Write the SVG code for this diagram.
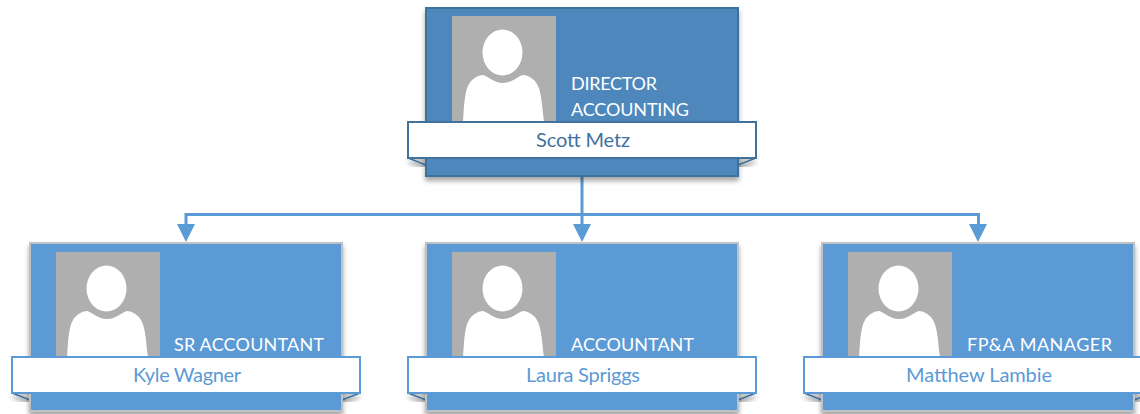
<svg xmlns="http://www.w3.org/2000/svg" width="1140" height="414" viewBox="0 0 1140 414">
<style>
text{font-family:"Lato","Open Sans","Liberation Sans",sans-serif}
.card{stroke-width:2}
.c1{fill:#5b9ad6;stroke:#bfc3c6}
.c0{fill:#4e87bc;stroke:#41719c}
.photo{fill:#afafaf}
.head,.body{fill:#fff}
.rib{fill:#fff;stroke-width:2}
.r1{stroke:#5b9ad6}.r0{stroke:#41719c}
.flap{fill:#c9c9c9;stroke-width:1.5}
.role{fill:#fff;font-size:18px}
.n{text-anchor:middle;font-size:20px}
.n1{fill:#5b9ad6}.n0{fill:#41719c}
.wire{fill:none;stroke:#5b9bd5;stroke-width:3}
.hd{fill:#5b9bd5}
</style>
<defs>
<filter id="sh" x="-10%" y="-10%" width="120%" height="125%"><feDropShadow dx="0" dy="4" stdDeviation="2.5" flood-color="#000" flood-opacity="0.35"/></filter>
<g id="person">
<rect class="photo" width="104" height="106"/>
<ellipse class="head" cx="50.500" cy="36.500" rx="20" ry="23"/>
<path class="body" d="M11 106C12 88 13 76 16 70C19 63 26 59 31 59C36 60 42 67 51 67C60 67 66 60 71 59C76 59 83 63 86 70C89 76 90 88 92 106Z"/>
</g>
</defs>
<g id="connectors">
<path class="wire" d="M582 176V228M186 228V214.500H978.500V228"/>
<polygon class="hd" points="177,224 195,224 186,242"/>
<polygon class="hd" points="573,224 591,224 582,242"/>
<polygon class="hd" points="969,224 987,224 978,242"/>
</g>
<g id="node-director">
<polygon class="flap" stroke="#41719c" points="408,158 426,165 738,165 756,158" filter="url(#sh)"/>
<rect class="card c0" x="426" y="8" width="312" height="168" filter="url(#sh)"/>
<use href="#person" x="452" y="16"/>
<text class="role" x="571" y="90" textLength="86" lengthAdjust="spacing">DIRECTOR</text>
<text class="role" x="571" y="116" textLength="118" lengthAdjust="spacing">ACCOUNTING</text>
<rect class="rib r0" x="408" y="122" width="348" height="36"/>
<text class="n n0" x="583" y="147" textLength="94" lengthAdjust="spacing">Scott Metz</text>
</g>
<g id="node-kyle">
<polygon class="flap" stroke="#41719c" points="12,393 30,400 342,400 360,393" filter="url(#sh)"/>
<rect class="card c1" x="30" y="243" width="312" height="168" filter="url(#sh)"/>
<use href="#person" x="56" y="252"/>
<text class="role" x="174" y="351" textLength="150" lengthAdjust="spacing">SR ACCOUNTANT</text>
<rect class="rib r1" x="12" y="357" width="348" height="36"/>
<text class="n n1" x="187" y="382" textLength="108" lengthAdjust="spacing">Kyle Wagner</text>
</g>
<g id="node-laura">
<polygon class="flap" stroke="#41719c" points="408,393 426,400 738,400 756,393" filter="url(#sh)"/>
<rect class="card c1" x="426" y="243" width="312" height="168" filter="url(#sh)"/>
<use href="#person" x="452" y="252"/>
<text class="role" x="571" y="351" textLength="123" lengthAdjust="spacing">ACCOUNTANT</text>
<rect class="rib r1" x="408" y="357" width="348" height="36"/>
<text class="n n1" x="583" y="382" textLength="114" lengthAdjust="spacing">Laura Spriggs</text>
</g>
<g id="node-matthew">
<polygon class="flap" stroke="#41719c" points="804,393 822,400 1134,400 1152,393" filter="url(#sh)"/>
<rect class="card c1" x="822" y="243" width="312" height="168" filter="url(#sh)"/>
<use href="#person" x="848" y="252"/>
<text class="role" x="967" y="351" textLength="145" lengthAdjust="spacing">FP&amp;A MANAGER</text>
<rect class="rib r1" x="804" y="357" width="348" height="36"/>
<text class="n n1" x="979" y="382" textLength="146" lengthAdjust="spacing">Matthew Lambie</text>
</g>
</svg>
